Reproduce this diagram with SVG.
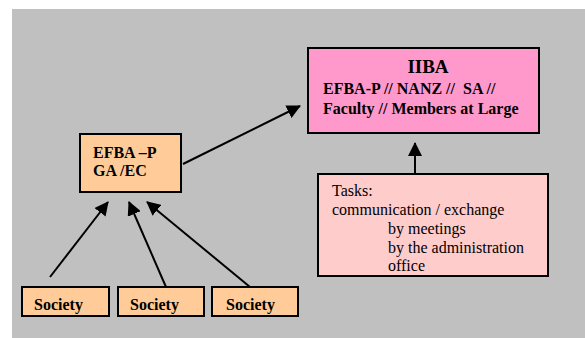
<svg xmlns="http://www.w3.org/2000/svg" width="585" height="338" viewBox="0 0 585 338">
<defs>
<style>
.box{stroke:#000;stroke-width:2}
.b{font-family:"Liberation Serif","Times New Roman",serif;font-weight:bold;font-size:16px;fill:#000}
.r{font-family:"Liberation Serif","Times New Roman",serif;font-size:16px;fill:#000}
.c{stroke:#000;stroke-width:2;fill:none;marker-end:url(#ah)}
</style>
<marker id="ah" markerUnits="userSpaceOnUse" markerWidth="14" markerHeight="14" refX="13" refY="7" orient="auto" viewBox="0 0 14 14">
<path d="M0,0 L14,7 L0,14 Z" fill="#000"/>
</marker>
</defs>
<rect x="0" y="0" width="585" height="338" fill="#fff"/>
<rect x="12" y="9" width="573" height="329" fill="#C0C0C0"/>
<g id="iiba">
<rect class="box" x="308" y="48" width="231" height="85" fill="#FF99CC"/>
<text class="b" x="428" y="73" text-anchor="middle" style="font-size:19px">IIBA</text>
<text class="b" x="323" y="94" xml:space="preserve">EFBA-P // NANZ //  SA //</text>
<text class="b" x="323" y="114">Faculty // Members at Large</text>
</g>
<g id="efba">
<rect class="box" x="80" y="134" width="101" height="58" fill="#FFCC99"/>
<text class="b" x="93" y="158">EFBA –P</text>
<text class="b" x="93" y="176">GA /EC</text>
</g>
<g id="tasks">
<rect class="box" x="318" y="174" width="230" height="102" fill="#FFCCCC"/>
<text class="r" x="332" y="196">Tasks:</text>
<text class="r" x="332" y="215">communication / exchange</text>
<text class="r" x="388" y="234">by meetings</text>
<text class="r" x="388" y="253">by the administration</text>
<text class="r" x="388" y="271">office</text>
</g>
<g id="society1">
<rect class="box" x="22" y="287" width="87" height="29" fill="#FFCC99"/>
<text class="b" x="34" y="310">Society</text>
</g>
<g id="society2">
<rect class="box" x="118" y="287" width="86" height="29" fill="#FFCC99"/>
<text class="b" x="130" y="310">Society</text>
</g>
<g id="society3">
<rect class="box" x="212" y="287" width="86" height="29" fill="#FFCC99"/>
<text class="b" x="226" y="310">Society</text>
</g>
<g id="connectors">
<line class="c" x1="183" y1="164" x2="300" y2="106"/>
<line class="c" x1="415" y1="174" x2="415" y2="143"/>
<line class="c" x1="50" y1="277" x2="108" y2="202"/>
<line class="c" x1="166" y1="287" x2="129" y2="202"/>
<line class="c" x1="250" y1="287" x2="147" y2="202"/>
</g>
</svg>
